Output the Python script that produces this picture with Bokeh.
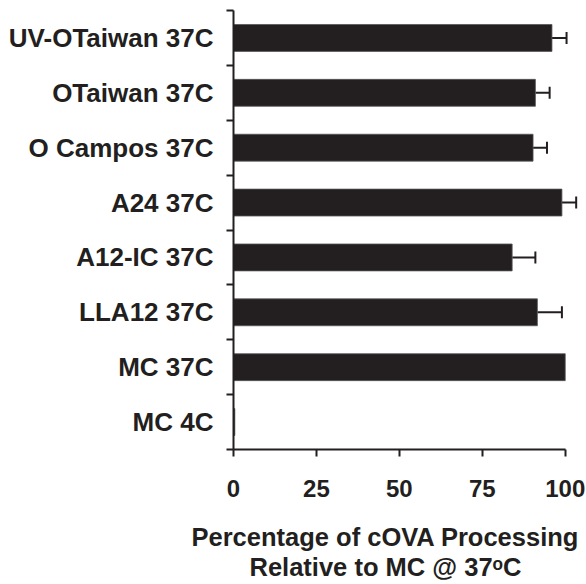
from bokeh.plotting import figure
from bokeh.models import Range1d, FixedTicker, ColumnDataSource, Whisker, TeeHead, Title
from bokeh.embed import file_html
from bokeh.resources import INLINE

# Data (top to bottom as shown)
categories = ["UV-OTaiwan 37C", "OTaiwan 37C", "O Campos 37C", "A24 37C",
              "A12-IC 37C", "LLA12 37C", "MC 37C", "MC 4C"]
values = [96.0, 91.0, 90.3, 99.0, 84.0, 91.6, 100.0, 0.4]
errors = [4.4, 4.3, 4.2, 4.3, 7.0, 7.4, 0.0, 0.0]
x_ticks = [0, 25, 50, 75, 100]
title_line1 = "Percentage of cOVA Processing"
title_line2 = "Relative to MC @ 37\u1d52C"

DARK = "#231f20"
FONT = "Liberation Sans"

n = len(categories)
ypos = [n - i - 0.5 for i in range(n)]

src = ColumnDataSource(dict(y=ypos, val=values, cat=categories))
eb_idx = [i for i, e in enumerate(errors) if e > 0]
err_src = ColumnDataSource(dict(
    y=[ypos[i] for i in eb_idx],
    lower=[values[i] for i in eb_idx],
    upper=[values[i] + errors[i] for i in eb_idx],
))

p = figure(width=586, height=584, output_backend="svg", toolbar_location=None,
           x_range=Range1d(0, 104), y_range=Range1d(0, n),
           min_border_left=233, min_border_right=8, min_border_top=10, min_border_bottom=135)
p.outline_line_color = None
p.grid.visible = False
p.background_fill_color = "white"

p.hbar(y="y", left=0, right="val", height=0.49, source=src,
       fill_color=DARK, line_color="#555555", line_width=0.8)

wh = Whisker(source=err_src, base="y", lower="lower", upper="upper", dimension="width",
             lower_head=None,
             upper_head=TeeHead(size=12, line_width=2, line_color=DARK),
             line_width=2, line_color=DARK)
p.add_layout(wh)

# x axis
xa = p.xaxis[0]
xa.ticker = FixedTicker(ticks=x_ticks)
xa.bounds = (0, 100)
xa.axis_line_width = 2
xa.axis_line_color = DARK
xa.major_tick_line_color = DARK
xa.major_tick_line_width = 2
xa.major_tick_out = 7
xa.major_tick_in = 0
xa.minor_tick_line_color = None
xa.major_label_text_font = FONT
xa.major_label_text_font_style = "bold"
xa.major_label_text_font_size = "24px"
xa.major_label_text_color = DARK
xa.major_label_standoff = 23

# y axis: labels at bar centres, ticks at band boundaries
ya = p.yaxis[0]
ya.ticker = FixedTicker(ticks=ypos, minor_ticks=list(range(n + 1)))
ya.major_label_overrides = {y: c for y, c in zip(ypos, categories)}
ya.axis_line_width = 2
ya.axis_line_color = DARK
ya.major_tick_line_color = None
ya.major_tick_out = 0
ya.major_tick_in = 0
ya.minor_tick_line_color = DARK
ya.minor_tick_line_width = 2
ya.minor_tick_out = 7
ya.minor_tick_in = 0
ya.major_label_text_font = FONT
ya.major_label_text_font_style = "bold"
ya.major_label_text_font_size = "26px"
ya.major_label_text_color = DARK
ya.major_label_standoff = 13

# spacer between tick labels and the two-line axis title
p.add_layout(Title(text=" ", standoff=18, text_font_size="1px"), "below")
for txt, off in [(title_line1, -42), (title_line2, 16)]:
    p.add_layout(Title(text=txt, align="left", offset=off, standoff=0,
                       text_font=FONT, text_font_style="bold", text_font_size="25.5px",
                       text_color=DARK), "below")

open("out.html", "w").write(file_html(p, INLINE))
